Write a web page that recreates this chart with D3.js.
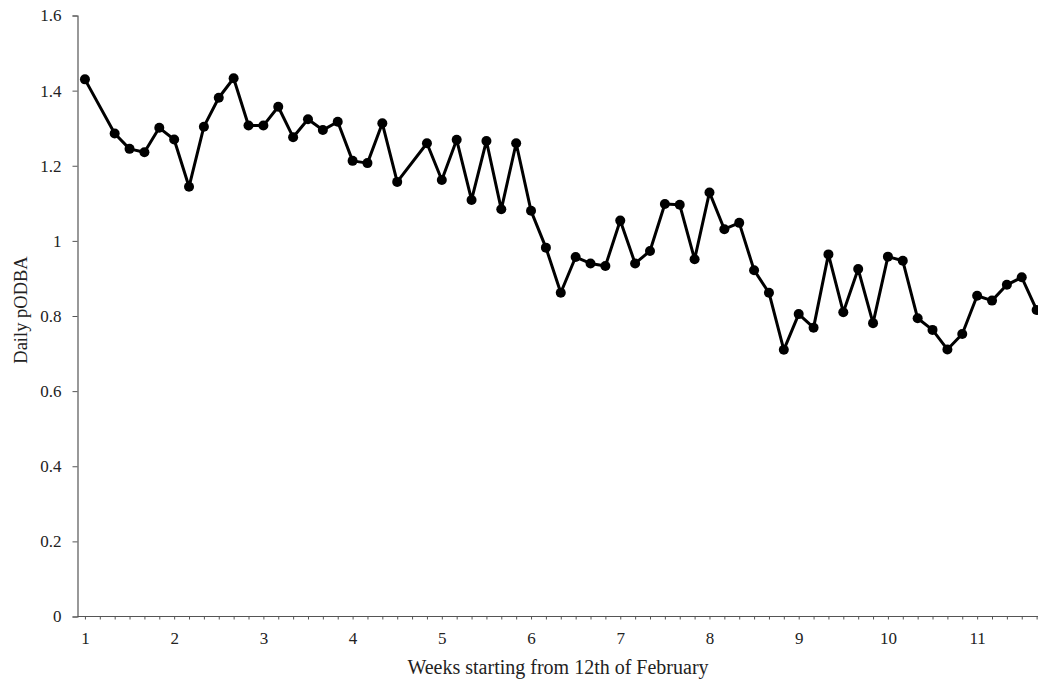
<!DOCTYPE html>
<html>
<head>
<meta charset="utf-8">
<script src="https://cdn.jsdelivr.net/npm/d3@7"></script>
<style>
  html, body { margin: 0; padding: 0; background: #fff; }
  svg { display: block; }
  text { font-family: "Liberation Serif", "Times New Roman", serif; fill: #222; }
</style>
</head>
<body>
<svg id="chart" width="1038" height="680"></svg>
<script>
// Day index (0 = start of week 1); days 1 and 22 have no value
const days = [0, 2, 3, 4, 5, 6, 7, 8, 9, 10, 11, 12, 13, 14, 15, 16, 17, 18, 19, 20, 21,
  23, 24, 25, 26, 27, 28, 29, 30, 31, 32, 33, 34, 35, 36, 37, 38, 39, 40, 41, 42, 43,
  44, 45, 46, 47, 48, 49, 50, 51, 52, 53, 54, 55, 56, 57, 58, 59, 60, 61, 62, 63, 64];
const podba = [1.430, 1.286, 1.245, 1.236, 1.301, 1.270, 1.144, 1.304, 1.381, 1.433,
  1.307, 1.307, 1.357, 1.276, 1.324, 1.295, 1.317, 1.213, 1.207, 1.313, 1.157,
  1.260, 1.162, 1.269, 1.109, 1.266, 1.084, 1.260, 1.080, 0.982, 0.862, 0.957,
  0.940, 0.933, 1.054, 0.940, 0.973, 1.098, 1.096, 0.951, 1.129, 1.031, 1.048,
  0.922, 0.862, 0.710, 0.805, 0.769, 0.964, 0.810, 0.925, 0.781, 0.958, 0.947,
  0.794, 0.763, 0.711, 0.752, 0.854, 0.841, 0.883, 0.903, 0.816];
const weekLabels = ["1", "2", "3", "4", "5", "6", "7", "8", "9", "10", "11"];
const daysPerLabel = 6;
const yTicks = [0, 0.2, 0.4, 0.6, 0.8, 1, 1.2, 1.4, 1.6];

const svg = d3.select("#chart");
const mLeft = 77.5, mBottom = 616.5, mTop = 15.5;
const step = 14.87;

const x = d3.scaleLinear().domain([-0.5, 64.08]).range([mLeft, mLeft + 64.58 * step]);
const y = d3.scaleLinear().domain([0, 1.6]).range([mBottom, mTop]);

// Y axis
const yAxis = svg.append("g").attr("transform", `translate(${mLeft},0)`)
  .call(d3.axisLeft(y).tickValues(yTicks).tickSize(5).tickPadding(11)
    .tickFormat(d => String(+d.toFixed(1))));
yAxis.select(".domain").attr("stroke", "#555").attr("stroke-width", 1.2);
yAxis.selectAll(".tick line").attr("stroke", "#555");
yAxis.selectAll(".tick text").style("font-size", "17px").attr("fill", "#222")
  .style("font-family", "'Liberation Serif', serif");

// X axis: tick on every day, labels every week
const allDays = d3.range(0, 65);
const xAxis = svg.append("g").attr("transform", `translate(0,${mBottom})`)
  .call(d3.axisBottom(x).tickValues(allDays).tickSize(3).tickPadding(12)
    .tickFormat(d => (d % daysPerLabel === 0 && weekLabels[d / daysPerLabel]) ? weekLabels[d / daysPerLabel] : ""));
xAxis.select(".domain").attr("stroke", "#555").attr("stroke-width", 1.2).attr("d", `M${mLeft},0H1038`);
xAxis.selectAll(".tick line").attr("stroke", "#555");
xAxis.selectAll(".tick text").style("font-size", "17px").attr("fill", "#222")
  .style("font-family", "'Liberation Serif', serif");

// Line
const pts = days.map((d, i) => [d, podba[i]]);
svg.append("path").datum(pts)
  .attr("fill", "none").attr("stroke", "#000").attr("stroke-width", 3)
  .attr("stroke-linejoin", "round")
  .attr("d", d3.line().x(d => x(d[0])).y(d => y(d[1])));

svg.append("g").selectAll("circle").data(pts).join("circle")
  .attr("cx", d => x(d[0])).attr("cy", d => y(d[1])).attr("r", 5).attr("fill", "#000");

// Axis titles
svg.append("text").attr("x", 558).attr("y", 674).attr("text-anchor", "middle")
  .style("font-size", "20px").text("Weeks starting from 12th of February");
svg.append("text").attr("transform", "translate(27,310) rotate(-90)").attr("text-anchor", "middle")
  .style("font-size", "18.5px").text("Daily pODBA");
</script>
</body>
</html>
